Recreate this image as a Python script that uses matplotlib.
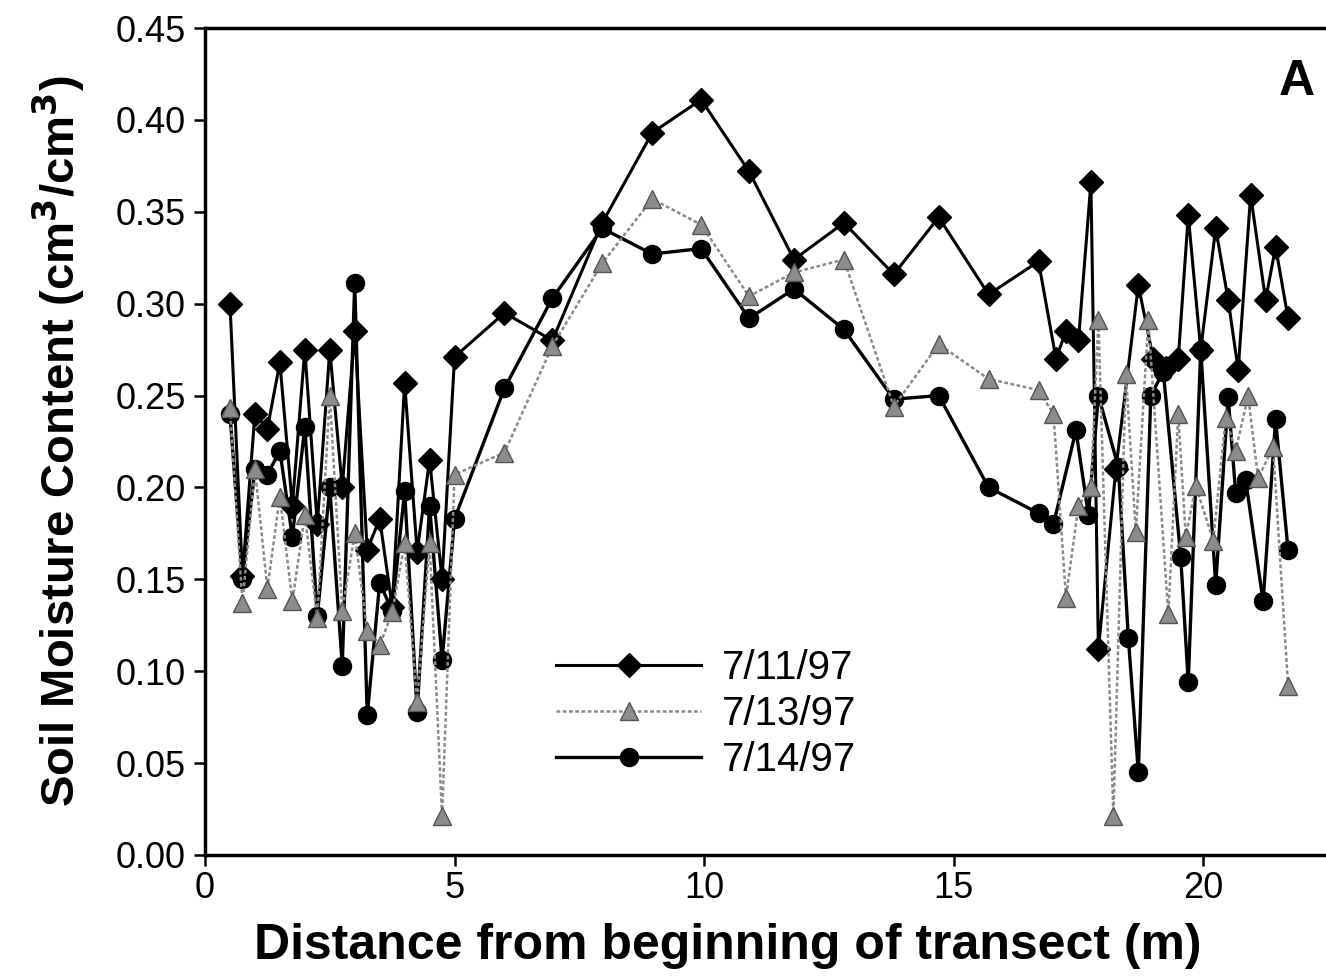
import matplotlib.pyplot as plt

plt.rcParams["font.family"] = ["Liberation Sans", "DejaVu Sans"]

# 7/11/97 (diamonds)
x_0711 = [0.5, 0.75, 1.0, 1.25, 1.5, 1.75, 2.0, 2.25, 2.5, 2.75, 3.0, 3.25, 3.5, 3.75,
          4.0, 4.25, 4.5, 4.75, 5.0, 6.0, 6.96, 7.96, 8.96, 9.94, 10.9, 11.8, 12.8,
          13.8, 14.7, 15.7, 16.7, 17.05, 17.25, 17.5, 17.75, 17.9, 18.25, 18.7, 19.0,
          19.25, 19.5, 19.7, 19.95, 20.25, 20.5, 20.7, 20.95, 21.25, 21.45, 21.7]
y_0711 = [0.300, 0.152, 0.240, 0.232, 0.268, 0.190, 0.275, 0.180, 0.275, 0.200, 0.285,
          0.166, 0.183, 0.135, 0.257, 0.165, 0.215, 0.150, 0.271, 0.295, 0.280, 0.344,
          0.393, 0.411, 0.372, 0.324, 0.344, 0.316, 0.347, 0.305, 0.323, 0.270, 0.285,
          0.280, 0.366, 0.112, 0.210, 0.310, 0.270, 0.265, 0.270, 0.348, 0.275, 0.341,
          0.302, 0.264, 0.359, 0.302, 0.331, 0.292]

# 7/13/97 (triangles)
x_0713 = [0.5, 0.75, 1.0, 1.25, 1.5, 1.75, 2.0, 2.25, 2.5, 2.75, 3.0, 3.25, 3.5, 3.75,
          4.0, 4.25, 4.5, 4.75, 5.0, 6.0, 6.96, 7.96, 8.96, 9.94, 10.9, 11.8, 12.8,
          13.8, 14.7, 15.7, 16.7, 17.0, 17.25, 17.5, 17.75, 17.9, 18.2, 18.45, 18.65,
          18.9, 19.3, 19.5, 19.65, 19.85, 20.2, 20.45, 20.65, 20.9, 21.1, 21.4, 21.7]
y_0713 = [0.243, 0.137, 0.210, 0.145, 0.195, 0.138, 0.185, 0.129, 0.250, 0.133, 0.175,
          0.122, 0.114, 0.132, 0.170, 0.083, 0.170, 0.021, 0.207, 0.219, 0.277, 0.322,
          0.357, 0.343, 0.304, 0.317, 0.324, 0.244, 0.278, 0.259, 0.253, 0.240, 0.140,
          0.190, 0.200, 0.291, 0.021, 0.262, 0.176, 0.291, 0.131, 0.240, 0.173, 0.201,
          0.171, 0.238, 0.220, 0.250, 0.205, 0.222, 0.092]

# 7/14/97 (circles)
x_0714 = [0.5, 0.75, 1.0, 1.25, 1.5, 1.75, 2.0, 2.25, 2.5, 2.75, 3.0, 3.25, 3.5, 3.75,
          4.0, 4.25, 4.5, 4.75, 5.0, 6.0, 6.96, 7.96, 8.96, 9.94, 10.9, 11.8, 12.8,
          13.8, 14.7, 15.7, 16.7, 17.0, 17.45, 17.7, 17.9, 18.3, 18.5, 18.7, 18.95,
          19.2, 19.55, 19.7, 19.95, 20.25, 20.5, 20.65, 20.85, 21.2, 21.45, 21.7]
y_0714 = [0.240, 0.150, 0.210, 0.207, 0.220, 0.173, 0.233, 0.130, 0.200, 0.103, 0.311,
          0.076, 0.148, 0.133, 0.198, 0.078, 0.190, 0.106, 0.183, 0.254, 0.303, 0.341,
          0.327, 0.330, 0.292, 0.308, 0.286, 0.248, 0.250, 0.200, 0.186, 0.180, 0.231,
          0.185, 0.250, 0.211, 0.118, 0.045, 0.250, 0.263, 0.162, 0.094, 0.275, 0.147,
          0.249, 0.197, 0.204, 0.138, 0.237, 0.166]

fig = plt.figure(figsize=(13.26, 9.77), dpi=100)
ax = fig.add_axes([205 / 1326, 122 / 977, 1 - 205 / 1326, 827 / 977])

ax.plot(x_0711, y_0711, color="black", linewidth=2.2, marker="D", markersize=12,
        markerfacecolor="black", markeredgecolor="black", label="7/11/97", zorder=3)
ax.plot(x_0713, y_0713, color="#8a8a8a", linewidth=1.8, linestyle=(0, (1.5, 1)),
        marker="^", markersize=13, markerfacecolor="#8c8c8c", markeredgecolor="#555555",
        label="7/13/97", zorder=4)
ax.plot(x_0714, y_0714, color="black", linewidth=2.4, marker="o", markersize=13,
        markerfacecolor="black", markeredgecolor="black", label="7/14/97", zorder=2)

ax.set_xlim(0, 22.46)
ax.set_ylim(0, 0.45)
ax.set_xticks([0, 5, 10, 15, 20])
ax.set_yticks([0, 0.05, 0.10, 0.15, 0.20, 0.25, 0.30, 0.35, 0.40, 0.45])
ax.set_yticklabels([f"{v:.2f}" for v in ax.get_yticks()])
ax.tick_params(axis="both", labelsize=26, direction="out", length=8, width=1.8)
ax.tick_params(axis="y", pad=6)
ax.spines["right"].set_visible(False)
for side in ["left", "top", "bottom"]:
    ax.spines[side].set_linewidth(2.5)

ax.set_xlabel("Distance from beginning of transect (m)", fontsize=36, fontweight="bold")
ax.xaxis.set_label_coords(0.466, -0.082)
ax.set_ylabel("Soil Moisture Content (cm$^\\mathbf{3}$/cm$^\\mathbf{3}$)", fontsize=34,
              fontweight="bold", labelpad=20)
ax.text(0.99, 0.935, "A", transform=ax.transAxes, fontsize=36, fontweight="bold",
        ha="right", va="center")

ax.legend(loc="center", bbox_to_anchor=(0.447, 0.17), frameon=False, fontsize=29,
          handlelength=3.6, handletextpad=0.5, labelspacing=0.2)

fig.savefig("out.png", dpi=100)
